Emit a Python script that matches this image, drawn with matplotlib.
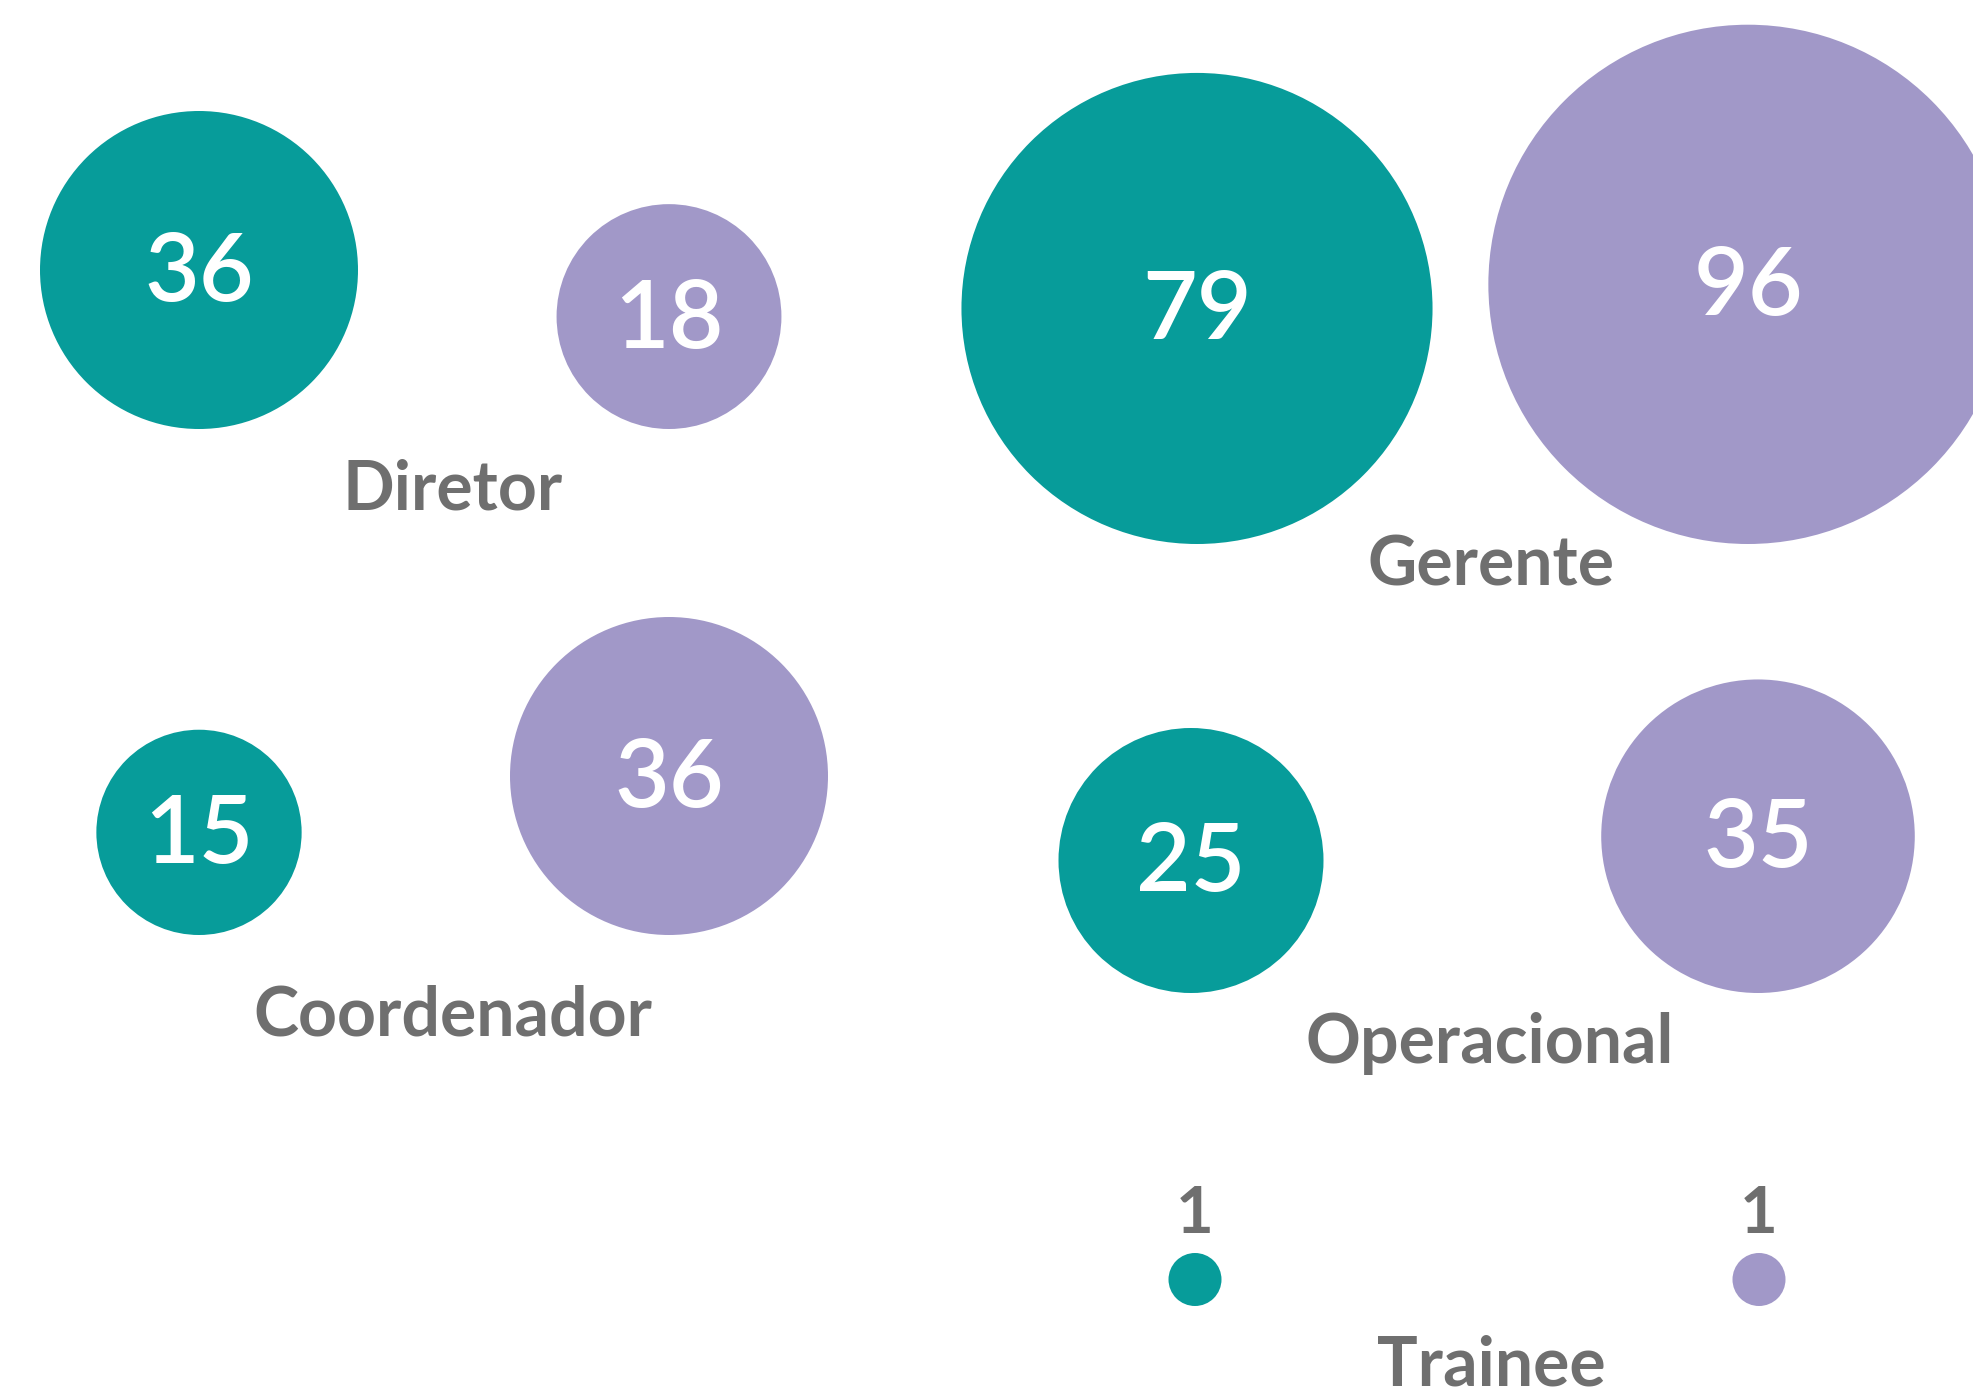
import numpy as np
import matplotlib
matplotlib.use("Agg")
import matplotlib.pyplot as plt
from matplotlib.patches import Circle

# Headcount per job level, split into two groups
levels = ["Diretor", "Gerente", "Coordenador", "Operacional", "Trainee"]
group_a = [36, 79, 15, 25, 1]   # teal
group_b = [18, 96, 36, 35, 1]   # purple

TEAL = "#079C9A"
PURPLE = "#A198C8"
GRAY = "#6F6F6F"
FONT = ["Lato", "DejaVu Sans"]

# Layout (canvas in pixel units): bubble columns, common bubble baseline and
# label anchor of each level
col_x = {"Diretor": (199, 669), "Gerente": (1197, 1748),
         "Coordenador": (199, 669), "Operacional": (1191, 1758),
         "Trainee": (1195, 1759)}
bubble_base = {"Diretor": 429, "Gerente": 544, "Coordenador": 935,
               "Operacional": 993, "Trainee": 1306}
label_xy = {"Diretor": (453, 510), "Gerente": (1491, 585),
            "Coordenador": (453, 1035), "Operacional": (1490, 1063),
            "Trainee": (1491, 1386)}
R_UNIT = 26.5        # bubble radius for a value of 1 (area proportional)
INSIDE_MIN = 5       # values below this are written above the bubble

W, H = 1974, 1392
fig = plt.figure(figsize=(W / 100, H / 100), dpi=100)
ax = fig.add_axes([0, 0, 1, 1])
ax.set_xlim(0, W)
ax.set_ylim(H, 0)
ax.set_aspect("equal")
ax.axis("off")

for i, lvl in enumerate(levels):
    xa, xb = col_x[lvl]
    base = bubble_base[lvl]
    for x, v, c in ((xa, group_a[i], TEAL), (xb, group_b[i], PURPLE)):
        r = R_UNIT * np.sqrt(v)
        cy = base - r
        ax.add_patch(Circle((x, cy), r, facecolor=c, edgecolor="none"))
        if v >= INSIDE_MIN:
            ax.text(x, cy + 4, str(v), color="white", fontsize=68, family=FONT,
                    fontweight="semibold", ha="center", va="center")
        else:
            ax.text(x, cy - r - 20, str(v), color=GRAY, fontsize=47,
                    family=FONT, fontweight="bold", ha="center", va="baseline")
    lx, ly = label_xy[lvl]
    ax.text(lx, ly, lvl, color=GRAY, fontsize=49, family=FONT,
            fontweight="bold", ha="center", va="baseline")

fig.savefig("out.png", dpi=100, facecolor="white")
